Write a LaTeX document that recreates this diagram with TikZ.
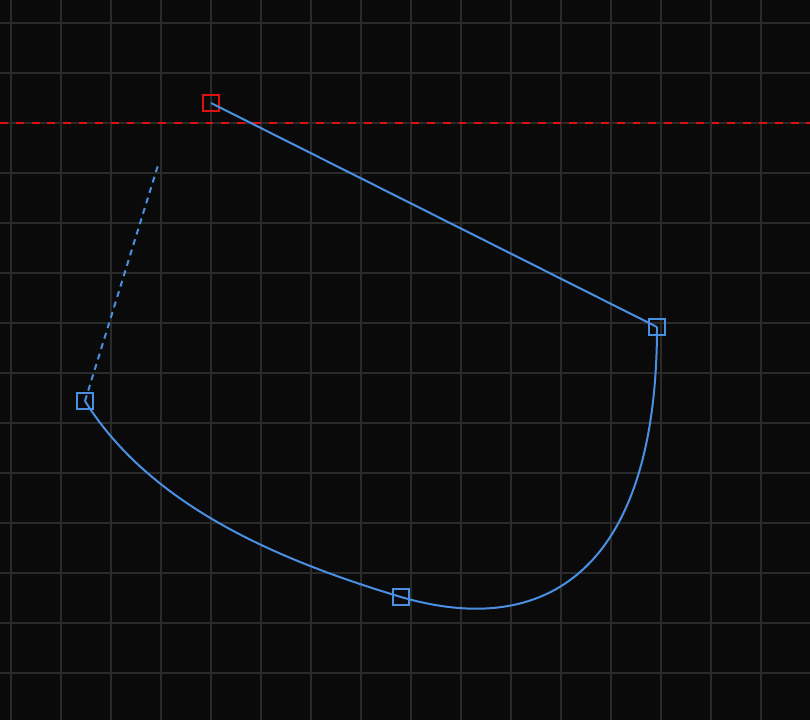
\documentclass[tikz,border=0pt]{standalone}
\usepackage{tikz}
\usetikzlibrary{calc}
\definecolor{canvasbg}{HTML}{0A0A0A}
\definecolor{gridgrey}{HTML}{2A2A2A}
\definecolor{pathblue}{HTML}{4A90E2}
\definecolor{guidered}{HTML}{E01010}

\begin{document}
\begin{tikzpicture}[
  x=0.02cm, y=-0.02cm,
  gridline/.style={draw=gridgrey, line width=0.03cm},
  handle/.style={draw=pathblue, rectangle, minimum size=0.32cm, inner sep=0pt, line width=0.04cm},
  firsthandle/.style={handle, draw=guidered},
  seg/.style={draw=pathblue, line width=0.04cm},
  tangent/.style={seg, dash pattern=on 3.4pt off 2.8pt},
  guide/.style={draw=guidered, line width=0.03cm, dash pattern=on 4.5pt off 4.5pt}
]
% canvas
\fill[canvasbg] (0,0) rectangle (810,720);
\useasboundingbox (0,0) rectangle (810,720);
\foreach \gx in {11,61,...,761} \draw[gridline] (\gx,0) -- (\gx,720);
\foreach \gy in {23,73,...,673} \draw[gridline] (0,\gy) -- (810,\gy);
\draw[guide] (0,123) -- (810,123);

% anchor points
\node[firsthandle] (start) at (211,103) {};
\node[handle] (right) at (657,327) {};
\node[handle] (bottom) at (401,597) {};
\node[handle] (left) at (85,401) {};
\coordinate (ctrl) at (159,162);

\draw[seg] (right.center) -- (start.center);
\draw[seg] (right.center) .. controls (657,558) and (556,642) .. (bottom.center)
  .. controls (271,558) and (149,503) .. (left.center);
\draw[tangent] (left.center) -- (ctrl);
\end{tikzpicture}
\end{document}
